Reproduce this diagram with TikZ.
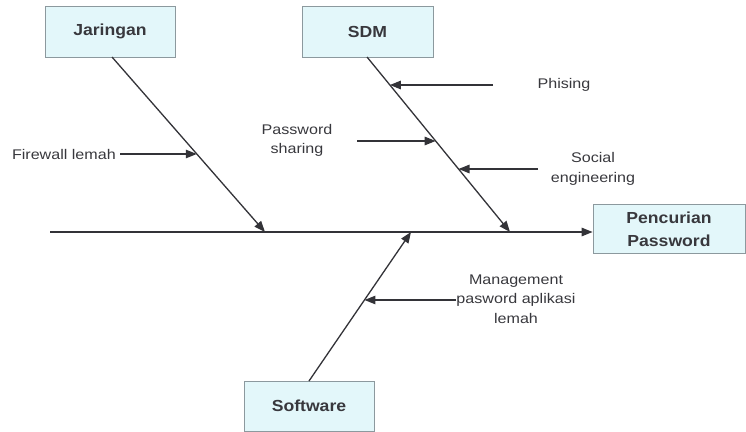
\documentclass[tikz,border=0pt]{standalone}
\usepackage{fontspec}
\setmainfont{Liberation Sans}[FakeStretch=1.15]
\newfontfamily\boldlabel{Liberation Sans Bold}[FakeStretch=1.1]
\usetikzlibrary{arrows.meta,calc}

\definecolor{boxfill}{rgb}{0.89,0.97,0.98}
\definecolor{boxline}{rgb}{0.55,0.60,0.62}
\definecolor{ink}{rgb}{0.22,0.22,0.24}
\definecolor{bone}{rgb}{0.20,0.20,0.22}

\tikzset{
  x=1pt, y=-1pt,
  causebox/.style={draw=boxline, fill=boxfill, line width=0.8pt,
    minimum width=#1, inner sep=0pt, text=ink,
    font=\boldlabel\fontsize{16}{23}\selectfont, align=center},
  causetext/.style={text=ink, inner sep=0pt,
    font=\fontsize{14}{19.5}\selectfont, align=center},
  boneline/.style={draw=bone, line width=1.3pt,
    -{Triangle[length=11pt,width=8.5pt]}},
}

\begin{document}
\begin{tikzpicture}
\useasboundingbox (0,0) rectangle (746,431);

% category boxes and the effect box
\node[causebox=130pt, minimum height=51pt] (jar) at (110,31.5) {Jaringan};
\node[causebox=131pt, minimum height=51pt] (sdm) at (367.5,31.5) {SDM};
\node[causebox=152pt, minimum height=49pt] (eff) at (669,229) {Pencurian\\Password};
\node[causebox=130pt, minimum height=50pt] (sw) at (309,406) {Software};

% spine and main bones
\coordinate (tail) at (50,232);
\coordinate (jtop) at (112,57);
\coordinate (jend) at (265,232);
\coordinate (stop) at (367,57);
\coordinate (send) at (510,232);
\coordinate (wbot) at (309,381);
\coordinate (wend) at (411,232);

\draw[boneline] (tail) -- (tail -| eff.west);
\draw[boneline] (jtop) -- (jend);
\draw[boneline] (stop) -- (send);
\draw[boneline] (wbot) -- (wend);

% points on the bones hit by the minor causes
\coordinate (fwhit) at ($(jtop)!0.554!(jend)$);
\coordinate (phhit) at ($(stop)!0.16!(send)$);
\coordinate (pshit) at ($(stop)!0.48!(send)$);
\coordinate (sohit) at ($(stop)!0.64!(send)$);
\coordinate (mghit) at ($(wbot)!0.544!(wend)$);

% minor causes
\node[causetext, anchor=east] (fw) at (116,154) {Firewall lemah};
\coordinate (fwstart) at (120,154);
\draw[boneline] (fwstart) -- (fwstart -| fwhit);

\node[causetext] (ph) at (564,85) {Phising};
\coordinate (phstart) at (493,85);
\draw[boneline] (phstart) -- (phstart -| phhit);

\node[causetext] (ps) at (297,140.5) {Password\\sharing};
\coordinate (psstart) at (357,141);
\draw[boneline] (psstart) -- (psstart -| pshit);

\node[causetext] (so) at (593,169) {Social\\engineering};
\coordinate (sostart) at (538,169);
\draw[boneline] (sostart) -- (sostart -| sohit);

\node[causetext] (mg) at (516,299) {Management\\pasword aplikasi\\lemah};
\coordinate (mgstart) at (456,300);
\draw[boneline] (mgstart) -- (mgstart -| mghit);
\end{tikzpicture}
\end{document}
